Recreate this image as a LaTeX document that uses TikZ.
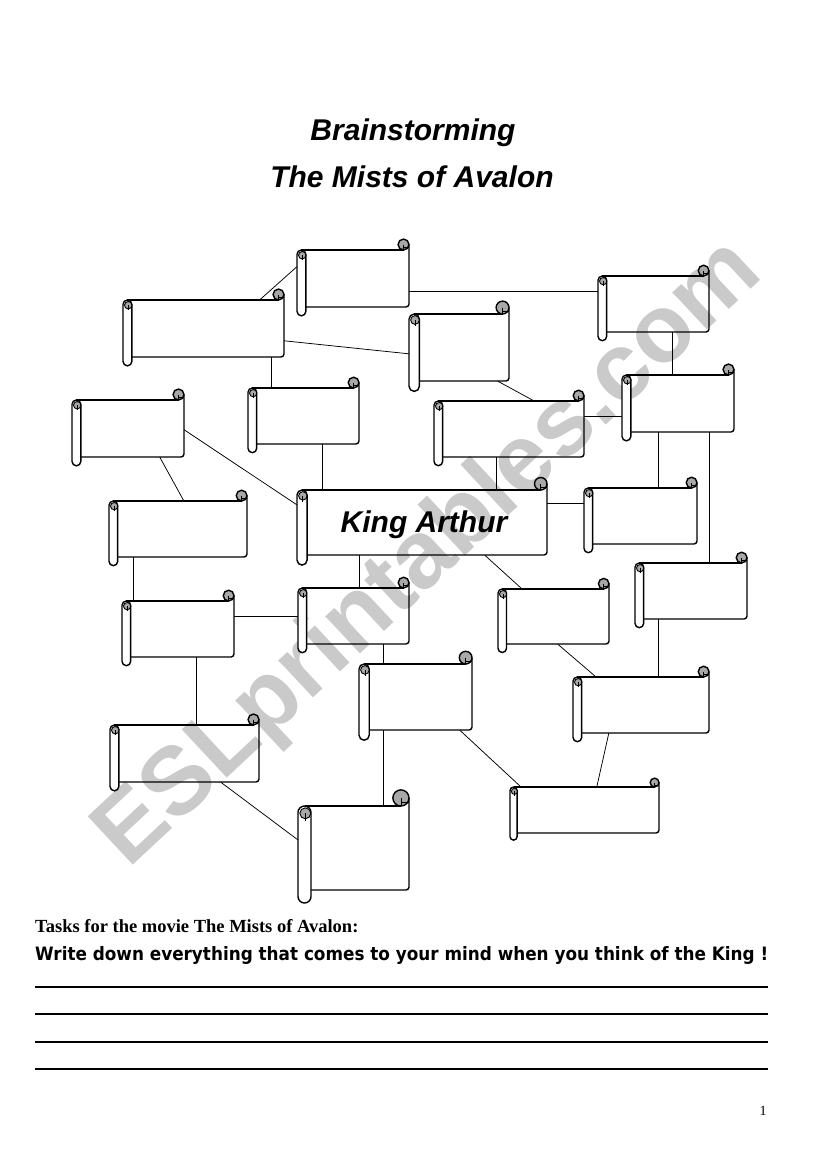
\documentclass[tikz,border=0pt]{standalone}
\usepackage{fontspec}
\setmainfont{Liberation Serif}
\newfontfamily\brushfont{Liberation Sans}
\newfontfamily\comicfont{DejaVu Sans}
\usepackage{tikz}
\definecolor{CurlGrey}{HTML}{A8A8A8}
\definecolor{MarkGrey}{HTML}{CACACA}

% scroll: name, left, top, right, bottom (page pixels)
\newcommand{\drawscroll}[5]{%
  \pgfmathsetmacro{\rw}{0.155*(#5-#3)}%
  \pgfmathsetmacro{\rh}{\rw/2}%
  \pgfmathsetmacro{\rc}{0.62*\rw}%
  \node[inner sep=0pt,minimum width={(#4-#2)*1pt},
        minimum height={(#5-#3)*1pt}] (#1) at ({(#2+#4)/2},{(#3+#5)/2}) {};
  \draw[scrollline] (#2+\rh,#3) -- (#4-\rc,#3);
  \draw[scrollline,rounded corners=3pt] (#4,#3-\rc) -- (#4,#5) -- (#2+\rw,#5);
  \draw[scrollline,fill=CurlGrey] (#4-\rc,#3-\rc) circle[radius=\rc];
  \draw[line width=0.8pt] (#4-\rc,#3-\rc) -- (#4-\rc,#3) (#4-\rc,#3-0.4*\rc) -- (#4,#3-0.4*\rc);
  \draw[scrollline,fill=white,rounded corners=\rh pt] (#2,#3) rectangle (#2+\rw,#5+\rw);
  \draw[line width=0.9pt,fill=CurlGrey] (#2+\rh+0.8,#3+\rh+0.8) circle[radius=0.42*\rw];
  \draw[line width=0.8pt] (#2+\rh+0.8,#3+\rh+0.8) -- (#2+\rh+0.8,#3+\rw+1.5);
}

\begin{document}
\begin{tikzpicture}[
          x=1pt,y=-1pt,
          scrollline/.style={line width=1.4pt},
          link/.style={line width=0.75pt},
          answerline/.style={line width=2.6pt},
          brush/.style={font=\brushfont\bfseries\itshape\fontsize{30}{34}\selectfont}]
        \useasboundingbox[fill=white] (0,0) rectangle (821,1169);
        \node[rotate=43,text=MarkGrey,
              font=\brushfont\bfseries\fontsize{96}{96}\selectfont] (mark) at (430,555) {ESLprintables.com};
        % titles
        \node[brush,anchor=base] (title1) at (413,141) {Brainstorming};
        \node[brush,anchor=base] (title2) at (412,187) {The Mists of Avalon};
        % scrolls
        \drawscroll{A}{123}{300}{284}{357}
        \drawscroll{B}{297}{250}{409}{307}
        \drawscroll{C}{72}{400}{184}{457}
        \drawscroll{D}{248}{388}{359}{444}
        \drawscroll{E}{109}{501}{247}{557}
        \drawscroll{king}{297}{490}{547}{555}
        \drawscroll{F}{409}{314}{509}{381}
        \drawscroll{G}{598}{276}{709}{332}
        \drawscroll{H}{434}{401}{584}{457}
        \drawscroll{I}{622}{375}{734}{432}
        \drawscroll{J}{584}{488}{697}{544}
        \drawscroll{L}{635}{563}{747}{619}
        \drawscroll{M}{122}{601}{234}{657}
        \drawscroll{N}{298}{588}{409}{644}
        \drawscroll{O}{498}{589}{609}{644}
        \drawscroll{P}{359}{664}{472}{730}
        \drawscroll{Q}{110}{725}{259}{782}
        \drawscroll{R}{298}{806}{409}{890}
        \drawscroll{S}{573}{677}{709}{733}
        \drawscroll{T}{510}{787}{659}{833}
        \node[brush,anchor=base] (kingtext) at (424,532) {King Arthur};
        % links
        \draw[link] ([xshift=137pt]A.north west) -- ([yshift=-17pt]B.north west);
        \draw[link] ([xshift=149pt]A.south west) -- ([xshift=24pt]D.north west);
        \draw[link] ([yshift=-41pt]A.north east) -- ([yshift=-40pt]F.north west);
        \draw[link] ([yshift=-42pt]B.north east) -- ([yshift=-16pt]G.north west);
        \draw[link] ([yshift=-30pt]C.north east) -- ([yshift=-15pt]king.north west);
        \draw[link] ([xshift=88pt]C.south west) -- ([xshift=75pt]E.north west);
        \draw[link] ([xshift=75pt]D.south west) -- ([xshift=26pt]king.north west);
        \draw[link] ([xshift=25pt]E.south west) -- ([xshift=12pt]M.north west);
        \draw[link] ([xshift=63pt]king.south west) -- ([xshift=62pt]N.north west);
        \draw[link] ([xshift=89pt]F.south west) -- ([xshift=100pt]H.north west);
        \draw[link] ([xshift=63pt]H.south west) -- ([xshift=200pt]king.north west);
        \draw[link] ([yshift=-16pt]H.north east) -- ([yshift=-42pt]I.north west);
        \draw[link] ([xshift=75pt]G.south west) -- ([xshift=51pt]I.north west);
        \draw[link] ([xshift=37pt]I.south west) -- ([xshift=75pt]J.north west);
        \draw[link] ([xshift=88pt]I.south west) -- ([xshift=75pt]L.north west);
        \draw[link] ([yshift=-14pt]king.north east) -- ([yshift=-16pt]J.north west);
        \draw[link] ([xshift=188pt]king.south west) -- ([xshift=24pt]O.north west);
        \draw[link] ([yshift=-16pt]M.north east) -- ([yshift=-29pt]N.north west);
        \draw[link] ([xshift=86pt]N.south west) -- ([xshift=25pt]P.north west);
        \draw[link] ([xshift=75pt]M.south west) -- ([xshift=87pt]Q.north west);
        \draw[link] ([xshift=111pt]Q.south west) -- ([yshift=-34pt]R.north west);
        \draw[link] ([xshift=25pt]P.south west) -- ([xshift=86pt]R.north west);
        \draw[link] ([xshift=24pt]L.south west) -- ([xshift=86pt]S.north west);
        \draw[link] ([xshift=60pt]O.south west) -- ([xshift=23pt]S.north west);
        \draw[link] ([xshift=36pt]S.south west) -- ([xshift=87pt]T.north west);
        \draw[link] ([xshift=101pt]P.south west) -- ([xshift=11pt]T.north west);
        % tasks
        \node[anchor=base west,inner sep=0pt,font=\bfseries\fontsize{18.5}{20}\selectfont] (tasks) at (35,932)
            {Tasks for the movie The Mists of Avalon:};
        \node[anchor=base west,inner sep=0pt,font=\comicfont\bfseries] (write) at (35,960)
            {\resizebox{733pt}{14pt}{Write down everything that comes to your mind when you think of the King !}};
        \foreach \y in {987,1014,1042,1069}
          \draw[answerline] (35,\y) -- (768,\y);
        \node[anchor=base,font=\fontsize{14}{16}\selectfont] (page) at (763,1115) {1};
      \end{tikzpicture}
\end{document}
